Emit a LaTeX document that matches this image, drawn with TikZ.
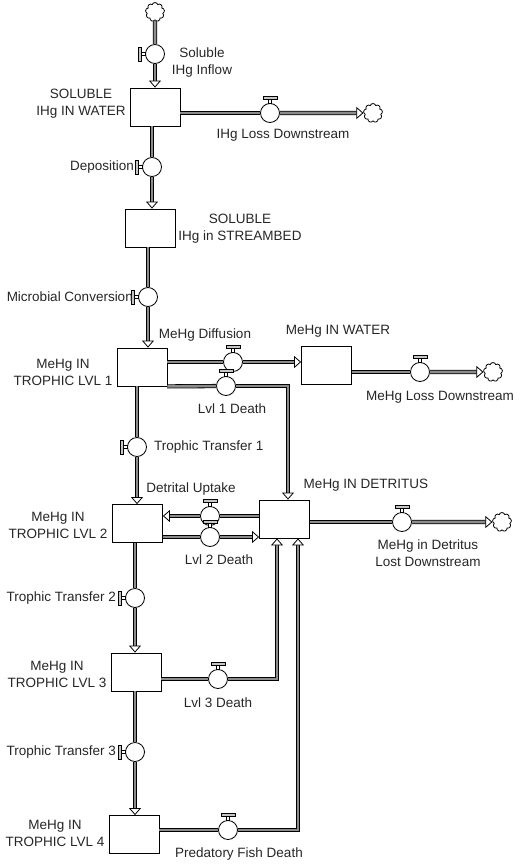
\documentclass[tikz,border=0pt]{standalone}
\usepackage{fontspec}
\setmainfont{Liberation Sans}
\usepackage{tikz}
\usetikzlibrary{arrows.meta,shapes.symbols}

% valve handles
\newcommand{\handleup}[1]{%
  \filldraw[fill=white,line width=0.6pt] (#1.north) ++(-1.6,0) rectangle ++(3.2,-4);
  \filldraw[fill=gray!45,line width=0.6pt] (#1.north) ++(-7,-4) rectangle ++(14,-3);}
\newcommand{\handleleft}[1]{%
  \filldraw[fill=white,line width=0.6pt] (#1.west) ++(0,-1.6) rectangle ++(-4,3.2);
  \filldraw[fill=gray!45,line width=0.6pt] (#1.west) ++(-4,-7) rectangle ++(-3,14);}

\begin{document}
\begin{tikzpicture}[
  x=1pt,y=-1pt,
  font=\fontsize{13.5}{17}\selectfont,
  stock/.style={draw,fill=white,line width=0.8pt,minimum width=50pt,minimum height=38pt,inner sep=0pt},
  valve/.style={circle,draw,fill=white,line width=0.8pt,minimum size=19pt,inner sep=0pt},
  sink/.style={cloud,cloud puffs=9,aspect=1,draw,fill=white,line width=0.8pt,minimum size=19pt,inner sep=0pt},
  pipe/.style={draw=black,double=gray!90,double distance=2.6pt,line width=0.8pt},
  flow/.style={-{Triangle[open,fill=white,length=7pt,width=12pt]}},
  lbl/.style={align=center,inner sep=0pt,text=black!85}
]
  \useasboundingbox (0,0) rectangle (520,864);

  % stocks
  \node[stock] (sw) at (155,107) {};
  \node[stock] (sb) at (150.5,228) {};
  \node[stock] (t1) at (142,367) {};
  \node[stock] (mw) at (326.5,365) {};
  \node[stock] (t2) at (137.5,523.5) {};
  \node[stock] (dt) at (284.5,519) {};
  \node[stock] (t3) at (136,672) {};
  \node[stock] (t4) at (134,834.5) {};

  % clouds
  \node[sink] (cloudIn) at (155,12) {};
  \node[sink] (cloudOut) at (373,113) {};
  \node[sink] (cloudMw) at (493,372) {};
  \node[sink] (cloudDt) at (502,522) {};

  % valves
  \node[valve] (vIn) at (155,54) {};
  \node[valve] (vLoss) at (270,113) {};
  \node[valve] (vDep) at (152,167) {};
  \node[valve] (vMic) at (148,297) {};
  \node[valve] (vDif) at (233,362) {};
  \node[valve] (vMwLoss) at (420,372) {};
  \node[valve] (vL1) at (226,386) {};
  \node[valve] (vTT1) at (137,447) {};
  \node[valve] (vUp) at (210,516) {};
  \node[valve] (vL2) at (210,537) {};
  \node[valve] (vDtLoss) at (402,522) {};
  \node[valve] (vTT2) at (135,598) {};
  \node[valve] (vL3) at (218,679) {};
  \node[valve] (vTT3) at (135,752) {};
  \node[valve] (vPF) at (228,830) {};

  \coordinate (c1) at (288,386);
  \coordinate (c3) at (277,679);
  \coordinate (c4) at (298,830);

  % pipes
  \draw[pipe] (cloudIn) -- (vIn);
  \draw[pipe,flow] (vIn) -- (vIn |- sw.north);
  \draw[pipe] (sw.east |- vLoss) -- (vLoss);
  \draw[pipe,flow] (vLoss) -- (cloudOut);
  \draw[pipe] (vDep |- sw.south) -- (vDep);
  \draw[pipe,flow] (vDep) -- (vDep |- sb.north);
  \draw[pipe] (vMic |- sb.south) -- (vMic);
  \draw[pipe,flow] (vMic) -- (vMic |- t1.north);
  \draw[pipe] (t1.east |- vDif) -- (vDif);
  \draw[pipe,flow] (vDif) -- (mw.west |- vDif);
  \draw[pipe] (mw.east |- vMwLoss) -- (vMwLoss);
  \draw[pipe,flow] (vMwLoss) -- (cloudMw);
  \draw[pipe] (t1.south east) -- (vL1);
  \draw[pipe,flow] (vL1) -- (c1) -- (c1 |- dt.north);
  \draw[pipe] (vTT1 |- t1.south) -- (vTT1);
  \draw[pipe,flow] (vTT1) -- (vTT1 |- t2.north);
  \draw[pipe] (dt.west |- vUp) -- (vUp);
  \draw[pipe,flow] (vUp) -- (t2.east |- vUp);
  \draw[pipe] (t2.east |- vL2) -- (vL2);
  \draw[pipe,flow] (vL2) -- (dt.west |- vL2);
  \draw[pipe] (dt.east |- vDtLoss) -- (vDtLoss);
  \draw[pipe,flow] (vDtLoss) -- (cloudDt);
  \draw[pipe] (vTT2 |- t2.south) -- (vTT2);
  \draw[pipe,flow] (vTT2) -- (vTT2 |- t3.north);
  \draw[pipe] (t3.east |- vL3) -- (vL3);
  \draw[pipe,flow] (vL3) -- (c3) -- (c3 |- dt.south);
  \draw[pipe] (vTT3 |- t3.south) -- (vTT3);
  \draw[pipe,flow] (vTT3) -- (vTT3 |- t4.north);
  \draw[pipe] (t4.east |- vPF) -- (vPF);
  \draw[pipe,flow] (vPF) -- (c4) -- (c4 |- dt.south);

  \handleleft{vIn}
  \handleleft{vDep}
  \handleleft{vMic}
  \handleleft{vTT1}
  \handleleft{vTT2}
  \handleleft{vTT3}
  \handleup{vLoss}
  \handleup{vDif}
  \handleup{vMwLoss}
  \handleup{vL1}
  \handleup{vUp}
  \handleup{vL2}
  \handleup{vDtLoss}
  \handleup{vL3}
  \handleup{vPF}

  % labels
  \node[lbl] (lIn) at (202,63) {Soluble\\IHg Inflow};
  \node[lbl] (lSw) at (81,104) {SOLUBLE\\IHg IN WATER};
  \node[lbl] (lLoss) at (283,135) {IHg Loss Downstream};
  \node[lbl,anchor=east] (lDep) at (134,167) {Deposition};
  \node[lbl] (lSb) at (240,229) {SOLUBLE\\IHg in STREAMBED};
  \node[lbl,anchor=east] (lMic) at (133,297) {Microbial Conversion};
  \node[lbl] (lDif) at (205,335) {MeHg Diffusion};
  \node[lbl] (lMw) at (338,331) {MeHg IN WATER};
  \node[lbl] (lT1) at (63,372) {MeHg IN\\TROPHIC LVL 1};
  \node[lbl] (lMwLoss) at (440,397) {MeHg Loss Downstream};
  \node[lbl] (lL1) at (232,409) {Lvl 1 Death};
  \node[lbl,anchor=west] (lTT1) at (154,447) {Trophic Transfer 1};
  \node[lbl] (lUp) at (191,489) {Detrital Uptake};
  \node[lbl] (lDt) at (366,485) {MeHg IN DETRITUS};
  \node[lbl] (lT2) at (58,525) {MeHg IN\\TROPHIC LVL 2};
  \node[lbl] (lDtLoss) at (428,553) {MeHg in Detritus\\Lost Downstream};
  \node[lbl] (lL2) at (219,560) {Lvl 2 Death};
  \node[lbl,anchor=east] (lTT2) at (116,598) {Trophic Transfer 2};
  \node[lbl] (lT3) at (57,674) {MeHg IN\\TROPHIC LVL 3};
  \node[lbl] (lL3) at (218,703) {Lvl 3 Death};
  \node[lbl,anchor=east] (lTT3) at (116,752) {Trophic Transfer 3};
  \node[lbl] (lT4) at (55,833) {MeHg IN\\TROPHIC LVL 4};
  \node[lbl] (lPF) at (239,854) {Predatory Fish Death};
\end{tikzpicture}
\end{document}
